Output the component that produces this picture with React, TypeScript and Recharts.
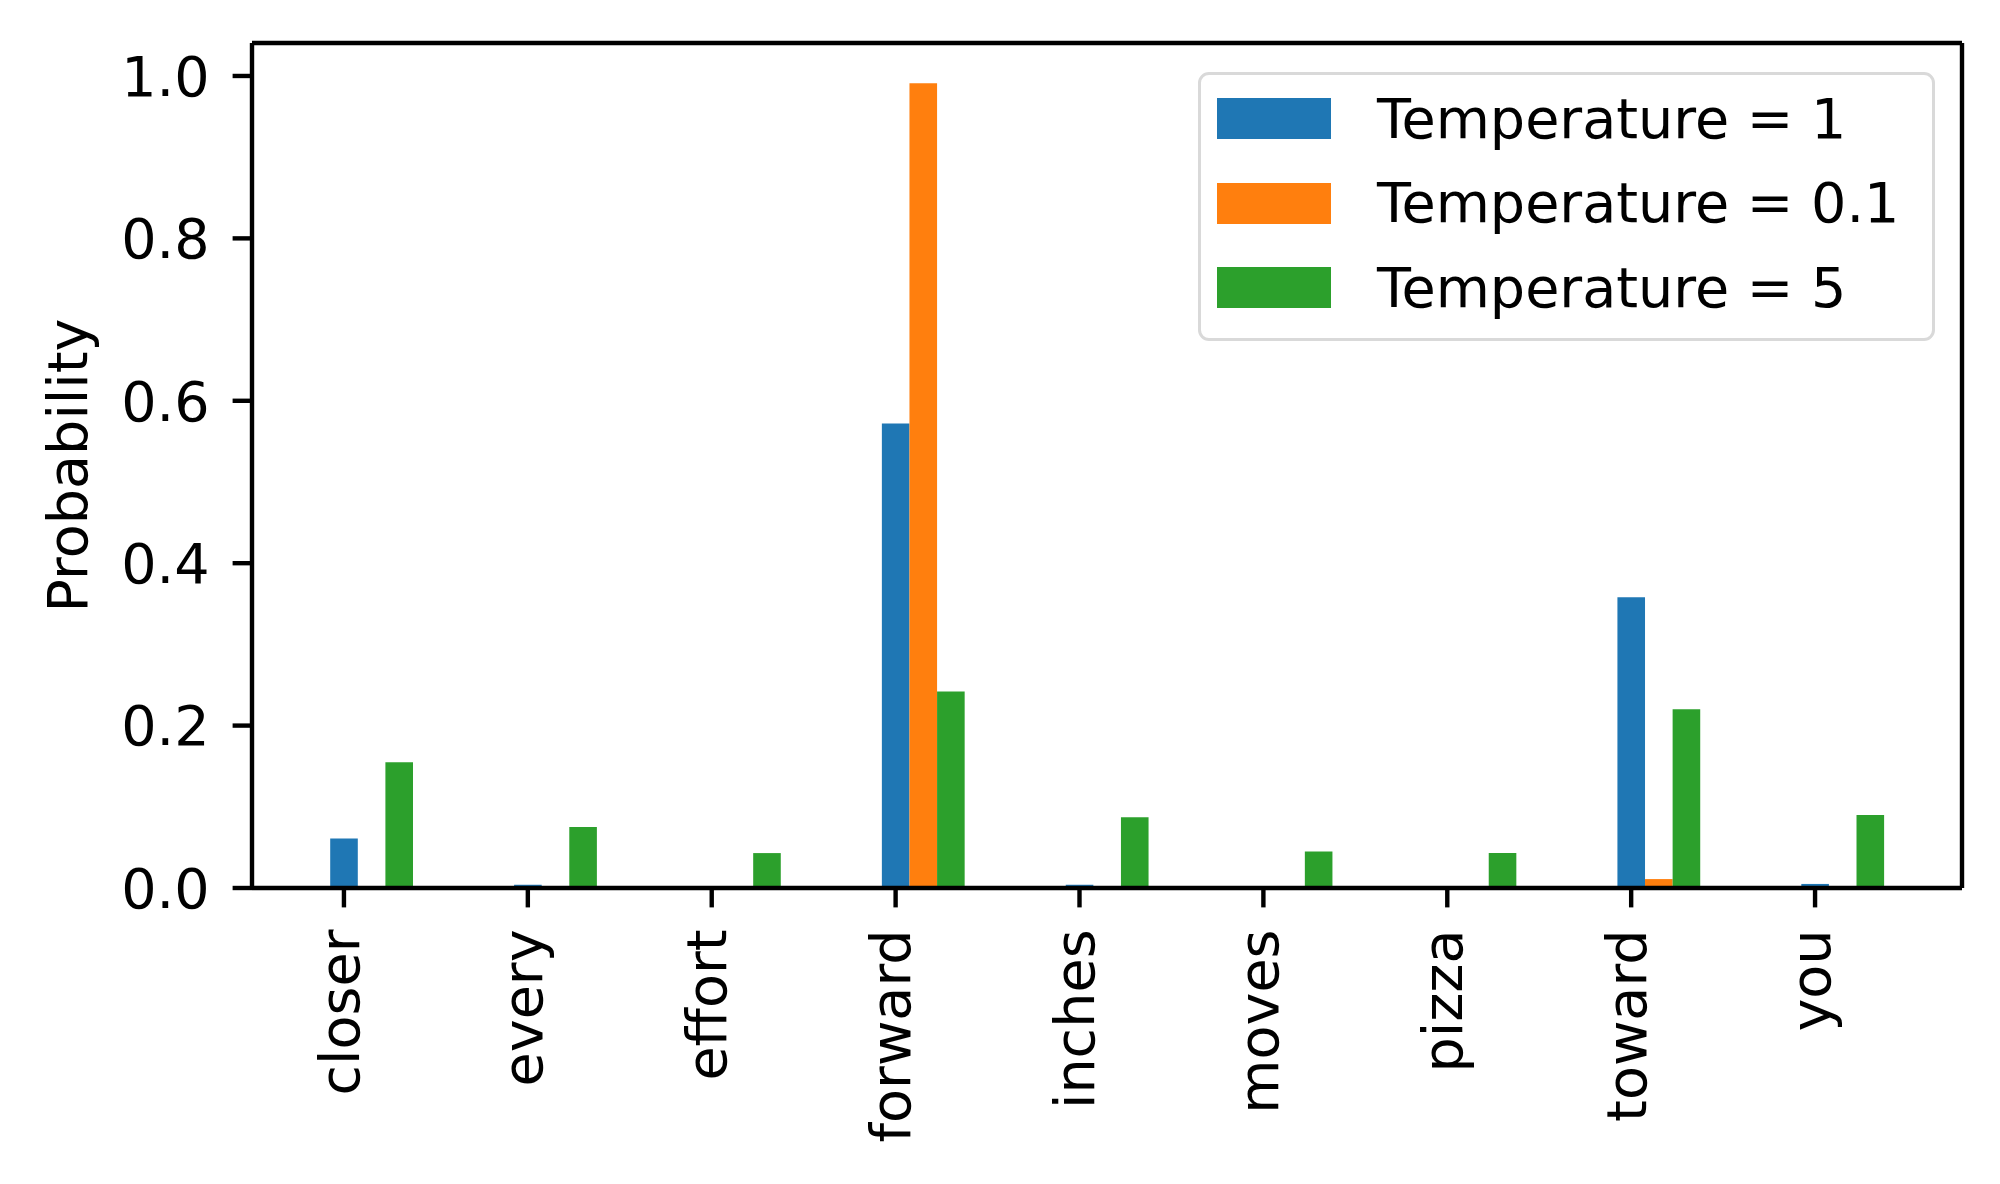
import React from "react";
import { BarChart, Bar, XAxis, YAxis, Legend, CartesianGrid } from "recharts";

// next-token probabilities for three softmax temperatures
const categories = ["closer", "every", "effort", "forward", "inches", "moves", "pizza", "toward", "you"];
const tempOne = [0.061, 0.004, 0.0002, 0.572, 0.004, 0.0002, 0.0002, 0.358, 0.005];
const tempLow = [0, 0, 0, 0.991, 0, 0, 0, 0.011, 0];
const tempHigh = [0.155, 0.075, 0.043, 0.242, 0.087, 0.045, 0.043, 0.22, 0.09];
const yTicks = [0, 0.2, 0.4, 0.6, 0.8, 1.0];

const seriesNames = ["Temperature = 1", "Temperature = 0.1", "Temperature = 5"];
const seriesKeys = ["t1", "t01", "t5"];
const seriesColors = ["#1f77b4", "#ff7f0e", "#2ca02c"];

const data = categories.map((word, i) => ({
  word,
  t1: tempOne[i],
  t01: tempLow[i],
  t5: tempHigh[i]
}));

const FONT = "'DejaVu Sans', sans-serif";
const FS = 55.6;
const LW = 4.4;
const TICK = 19.4;

const XTick = (props: any) => {
  const { x, y, payload } = props;
  return (
    <text
      transform={`translate(${x + 14.6},${y}) rotate(-90)`}
      textAnchor="end"
      fontSize={FS}
      fontFamily={FONT}
      fill="#000"
    >
      {payload.value}
    </text>
  );
};

const YLabel = (props: any) => {
  const vb = props.viewBox || {};
  const cy = vb.y + vb.height / 2;
  return (
    <text
      transform={`translate(87,${cy}) rotate(-90)`}
      textAnchor="middle"
      fontSize={FS}
      fontFamily={FONT}
      fill="#000"
    >
      Probability
    </text>
  );
};

const LegendBox = () => (
  <div
    style={{
      boxSizing: "border-box",
      width: 737,
      height: 269,
      border: "3px solid #d9d9d9",
      borderRadius: 11,
      background: "rgba(255,255,255,0.8)",
      padding: "1.4px 0 0 16px",
      fontFamily: FONT,
      fontSize: FS
    }}
  >
    {seriesNames.map((name, i) => (
      <div key={name} style={{ display: "flex", alignItems: "center", height: 84.6 }}>
        <div style={{ width: 114, height: 41, background: seriesColors[i] }} />
        <span style={{ marginLeft: 46, lineHeight: 1, color: "#000", whiteSpace: "nowrap" }}>{name}</span>
      </div>
    ))}
  </div>
);

// top and right spines of the axes box, taken from the plot offset
const topSpine = (p: any) => [p.offset.top];
const rightSpine = (p: any) => [p.offset.left + p.offset.width];

export default function App() {
  return (
    <div style={{ position: "absolute", left: 0, top: 0, width: 2000, height: 1184, background: "#fff" }}>
      <BarChart
        width={2000}
        height={1184}
        data={data}
        margin={{ top: 43, right: 38, left: 152, bottom: 96 }}
        barGap={0}
        barSize={27.6}
        style={{ fontFamily: FONT }}
      >
        <CartesianGrid
          stroke="#000"
          strokeWidth={LW}
          horizontalCoordinatesGenerator={topSpine}
          verticalCoordinatesGenerator={rightSpine}
        />
        <XAxis
          dataKey="word"
          height={200}
          interval={0}
          padding={{ left: 0, right: 55 }}
          tickSize={TICK}
          tickMargin={22}
          tick={<XTick />}
          axisLine={{ stroke: "#000", strokeWidth: LW }}
          tickLine={{ stroke: "#000", strokeWidth: LW }}
        />
        <YAxis
          type="number"
          domain={[0, 1.0406]}
          ticks={yTicks}
          interval={0}
          width={100}
          tickSize={TICK}
          tickMargin={23}
          tickFormatter={(v: number) => v.toFixed(1)}
          tick={{ fill: "#000", fontSize: FS, fontFamily: FONT }}
          axisLine={{ stroke: "#000", strokeWidth: LW }}
          tickLine={{ stroke: "#000", strokeWidth: LW }}
          label={YLabel}
        />
        <Legend
          layout="horizontal"
          verticalAlign="middle"
          align="center"
          content={() => <LegendBox />}
          wrapperStyle={{ left: 1198, top: 72, width: 737, height: 269 }}
        />
        {/* two empty slots so the first real bar sits centred on its tick */}
        <Bar dataKey="padA" fill="transparent" legendType="none" isAnimationActive={false} />
        <Bar dataKey="padB" fill="transparent" legendType="none" isAnimationActive={false} />
        {seriesKeys.map((key, i) => (
          <Bar
            key={key}
            dataKey={key}
            name={seriesNames[i]}
            fill={seriesColors[i]}
            isAnimationActive={false}
          />
        ))}
      </BarChart>
    </div>
  );
}
